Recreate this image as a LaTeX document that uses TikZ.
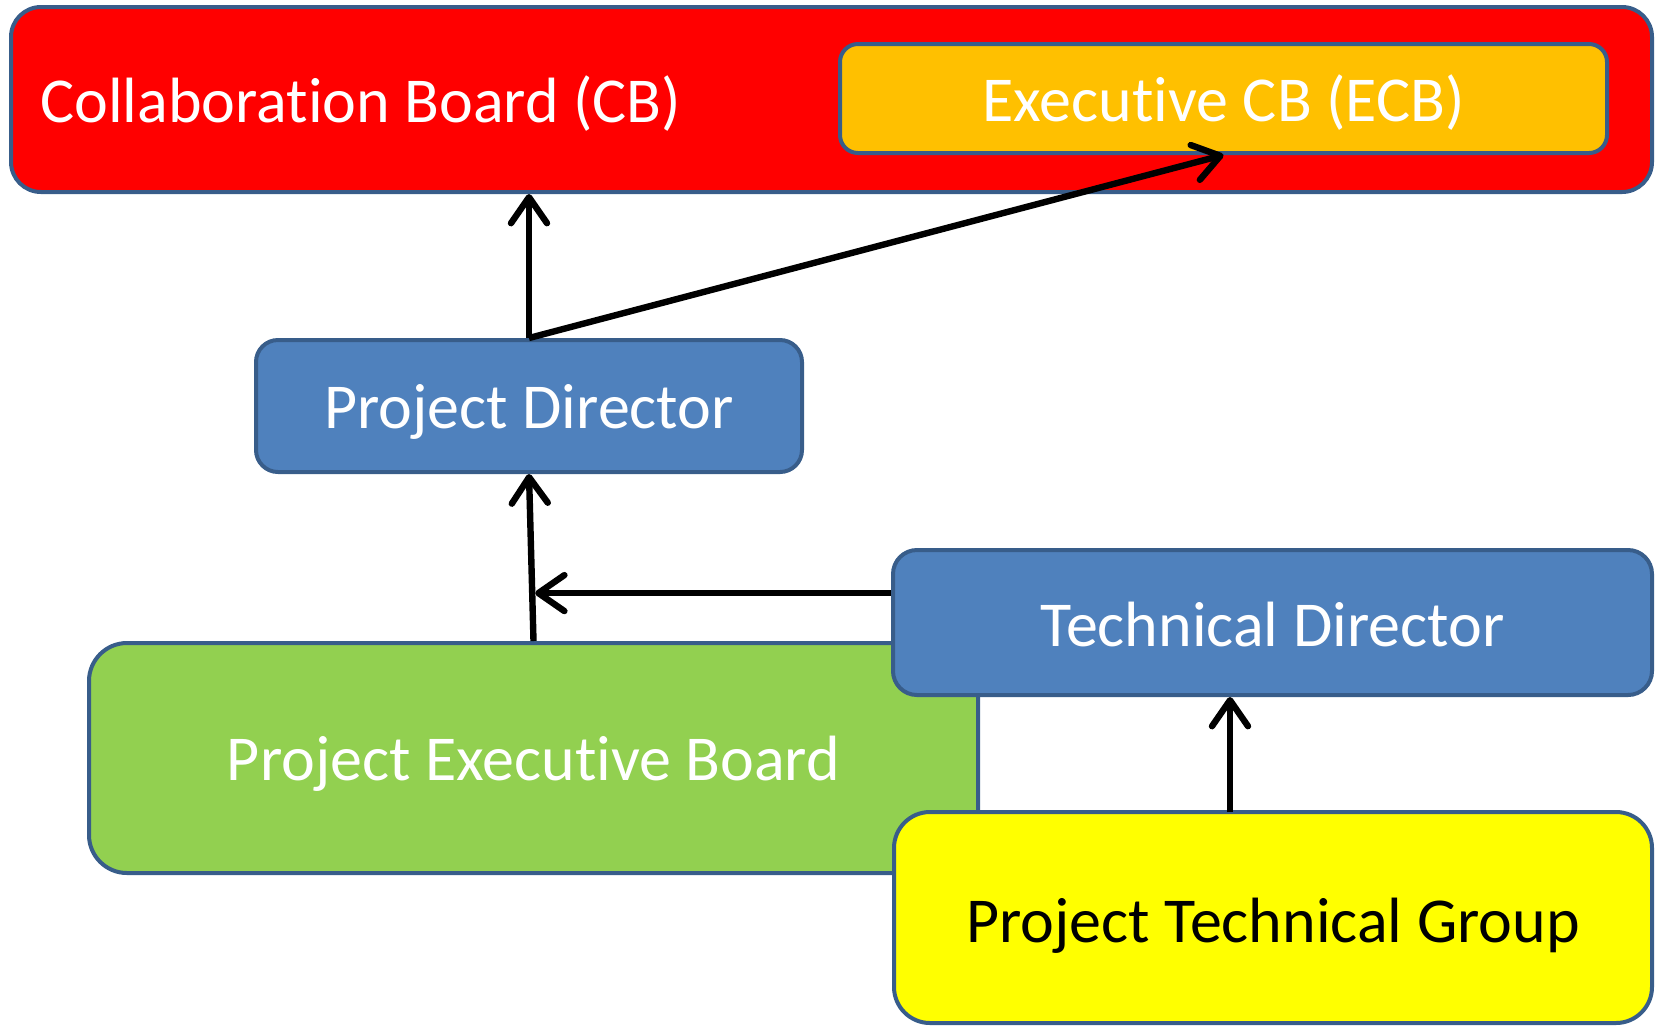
\documentclass[tikz,border=0pt]{standalone}
\usepackage{fontspec}
\setmainfont{Carlito}[Ligatures=NoCommon]
\usetikzlibrary{arrows.meta,calc}
\definecolor{edgeblue}{HTML}{385D8A}
\definecolor{cbred}{HTML}{FF0000}
\definecolor{ecbgold}{HTML}{FFC000}
\definecolor{dirblue}{HTML}{4F81BD}
\definecolor{pebgreen}{HTML}{92D050}
\definecolor{ptgyellow}{HTML}{FFFF00}
\begin{document}
\begin{tikzpicture}[x=0.5pt,y=-0.5pt,
  box/.style={draw=edgeblue, line width=2pt, rounded corners=#1, inner sep=0pt},
  box/.default=10pt,
  lbl/.style={font=\fontsize{32}{38}\selectfont, text=white, inner sep=0pt},
  conn/.style={line width=3.2pt, -{Straight Barb[length=13pt,width=18pt,round]}}]
\useasboundingbox (0,0) rectangle (1655,1025);

% boards
\node[box=15pt, fill=cbred, minimum width=820.5pt, minimum height=92.5pt] (cb) at (831.5,99.5) {};
\node[lbl, anchor=west] (cbtext) at (40,104) {Collaboration Board (CB)};
\node[box=9pt, fill=ecbgold, minimum width=383.5pt, minimum height=54.5pt] (ecb) at (1223.5,98.5) {};
\node[lbl] (ecbtext) at (1223.5,103) {Executive CB (ECB)};

% directors and groups
\node[box=11pt, fill=dirblue, minimum width=273pt, minimum height=66pt] (pd) at (529,406) {};
\node[lbl] (pdtext) at (529,412) {Project Director};
\node[box=19pt, fill=pebgreen, minimum width=444.5pt, minimum height=115pt] (peb) at (533.5,758) {};
\node[lbl] (pebtext) at (533.5,764) {Project Executive Board};
\node[box=12pt, fill=dirblue, minimum width=379.5pt, minimum height=72.5pt] (td) at (1272.5,622.5) {};
\node[lbl] (tdtext) at (1272.5,624) {Technical Director};
\node[box=18pt, fill=ptgyellow, minimum width=379pt, minimum height=105.5pt] (ptg) at (1273,917.5) {};
\node[lbl, text=black] (ptgtext) at (1273,926) {Project Technical Group};

% reporting lines
\draw[conn] (pd.north) -- (pd.north |- cb.south);
\draw[conn] (pd.north) -- (ecb.south);
\draw[conn] (peb.north) -- (pd.south);
\path (peb.north) -- (pd.south) coordinate[pos=0.287] (join);
\draw[conn, shorten >=1.5pt] (td.west |- join) -- (join);
\coordinate (ptgtop) at (1230,812);
\draw[conn] (ptgtop) -- (ptgtop |- td.south);
\end{tikzpicture}
\end{document}
